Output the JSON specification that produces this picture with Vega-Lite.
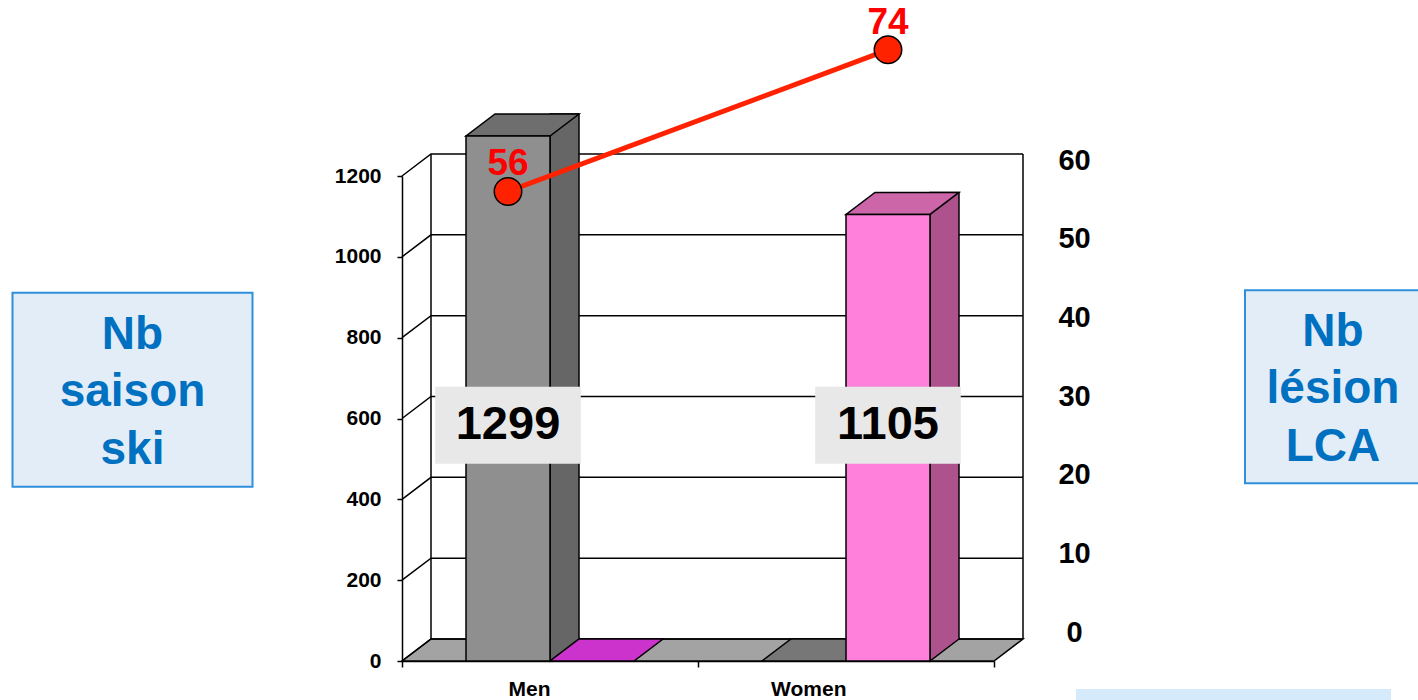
{
  "$schema": "https://vega.github.io/schema/vega-lite/v6.json",
  "width": 592,
  "height": 485,
  "autosize": {"type": "none"},
  "padding": {"left": 402, "top": 176, "right": 424, "bottom": 39},
  "background": "#ffffff",
  "config": {
    "view": {"stroke": null},
    "font": "Liberation Sans",
    "axis": {"labelFont": "Liberation Sans", "labelFontWeight": "bold", "labelColor": "#000000", "domainColor": "#000000", "tickColor": "#000000", "grid": false}
  },
  "datasets": {
    "seasons": [
      {"group": "Men", "sex": "Men", "n": 1299},
      {"group": "Men", "sex": "Women", "n": 0},
      {"group": "Women", "sex": "Men", "n": 0},
      {"group": "Women", "sex": "Women", "n": 1105}
    ],
    "injuries": [
      {"group": "Men", "sex": "Men", "lca": 56},
      {"group": "Women", "sex": "Women", "lca": 74}
    ],
    "ticks": [{"v": 0}, {"v": 200}, {"v": 400}, {"v": 600}, {"v": 800}, {"v": 1000}, {"v": 1200}],
    "notes": [
      {"note": "saison", "lines": ["Nb", "saison", "ski"]},
      {"note": "lesion", "lines": ["Nb", "lésion", "LCA"]}
    ]
  },
  "layer": [
    {
      "layer": [
        {
          "layer": [
            {
              "data": {"name": "ticks"},
              "transform": [{"filter": "datum.v === 0"}],
              "mark": {"type": "point", "shape": "M0,0L5.92,0L6.21,-0.22L0.29,-0.22Z", "size": 40000, "filled": true, "fill": "#a3a3a3", "stroke": "#000000", "strokeWidth": 1.5, "opacity": 1},
              "encoding": {
                "x": {"datum": "Men", "bandPosition": 0},
                "y": {"field": "v", "type": "quantitative", "title": null}
              }
            },
            {
              "data": {"name": "ticks"},
              "mark": {"type": "point", "shape": "M0,0L0.29,-0.22L6.21,-0.22", "size": 40000, "filled": false, "fill": null, "stroke": "#000000", "strokeWidth": 1.5, "opacity": 1},
              "encoding": {
                "x": {"datum": "Men", "bandPosition": 0},
                "y": {"field": "v", "type": "quantitative", "title": null}
              }
            },
            {
              "data": {"name": "ticks"},
              "transform": [{"filter": "datum.v === 0"}],
              "mark": {"type": "rule", "xOffset": 29, "yOffset": -22, "y2Offset": -22, "stroke": "#000000", "strokeWidth": 1.5},
              "encoding": {
                "x": {"datum": "Men", "bandPosition": 0},
                "y": {"datum": 0},
                "y2": {"datum": 1200}
              }
            },
            {
              "data": {"name": "ticks"},
              "transform": [{"filter": "datum.v === 0"}],
              "mark": {"type": "rule", "xOffset": 29, "yOffset": -22, "y2Offset": -22, "stroke": "#000000", "strokeWidth": 1.5},
              "encoding": {
                "x": {"datum": "Women", "bandPosition": 1},
                "y": {"datum": 0},
                "y2": {"datum": 1200}
              }
            },
            {
              "data": {"name": "seasons"},
              "encoding": {
                "x": {
                  "field": "group", "type": "nominal", "title": null,
                  "scale": {"domain": ["Men", "Women"], "paddingInner": 0, "paddingOuter": 0},
                  "axis": {"orient": "bottom", "tickBand": "extent", "tickSize": 6, "tickWidth": 1.5, "domainWidth": 1.5, "labelFontSize": 21, "labelPadding": 22, "labelAngle": 0, "title": null}
                },
                "y": {
                  "field": "n", "type": "quantitative", "title": null,
                  "scale": {"domain": [0, 1200], "nice": false, "zero": true},
                  "axis": {"orient": "left", "values": [0, 200, 400, 600, 800, 1000, 1200], "format": "d", "tickSize": 5, "tickWidth": 1.5, "domainWidth": 1.5, "labelFontSize": 21, "labelPadding": 16, "title": null, "grid": false}
                }
              },
              "layer": [
                {
                  "transform": [{"filter": "datum.n > 0 && datum.sex === 'Men'"}],
                  "mark": {"type": "bar", "width": 29, "xOffset": 14.5, "yOffset": -22, "y2Offset": -22, "fill": "#666666", "stroke": "#000000", "strokeWidth": 1.5}
                },
                {
                  "transform": [{"filter": "datum.n > 0 && datum.sex === 'Women'"}],
                  "mark": {"type": "bar", "width": 29, "xOffset": 98.5, "yOffset": -22, "y2Offset": -22, "fill": "#ad528c", "stroke": "#000000", "strokeWidth": 1.5}
                },
                {
                  "transform": [{"filter": "datum.n > 0"}],
                  "mark": {"type": "point", "shape": "M0.42,-0.235L0.42,0L0.71,-0.22L0.71,-0.235", "size": 40000, "filled": true, "stroke": "#000000", "strokeWidth": 1.5, "opacity": 1},
                  "encoding": {
                    "xOffset": {"field": "sex", "type": "nominal", "scale": {"domain": ["Men", "Women"], "paddingInner": 0, "paddingOuter": 0.762}},
                    "y": {"datum": 0},
                    "fill": {"condition": {"test": "datum.sex === 'Men'", "value": "#666666"}, "value": "#ad528c"}
                  }
                },
                {
                  "mark": {"type": "point", "shape": "M-0.42,0L0.42,0L0.71,-0.22L-0.13,-0.22Z", "size": 40000, "filled": true, "stroke": "#000000", "strokeWidth": 1.5, "opacity": 1},
                  "encoding": {
                    "xOffset": {"field": "sex", "type": "nominal"},
                    "fill": {
                      "condition": [
                        {"test": "datum.sex === 'Men' && datum.n > 0", "value": "#6e6e6e"},
                        {"test": "datum.sex === 'Men'", "value": "#777777"},
                        {"test": "datum.n > 0", "value": "#cc66a8"}
                      ],
                      "value": "#cc33cc"
                    }
                  }
                },
                {
                  "transform": [{"filter": "datum.n > 0"}],
                  "mark": {"type": "bar", "stroke": "#000000", "strokeWidth": 1.5},
                  "encoding": {
                    "xOffset": {"field": "sex", "type": "nominal"},
                    "fill": {"condition": {"test": "datum.sex === 'Men'", "value": "#8f8f8f"}, "value": "#ff80da"}
                  }
                },
                {
                  "transform": [{"filter": "datum.n > 0"}],
                  "mark": {"type": "point", "shape": "M-0.728,-0.385L0.728,-0.385L0.728,0.385L-0.728,0.385Z", "size": 40000, "filled": true, "fill": "#e8e8e8", "strokeWidth": 0, "opacity": 1},
                  "encoding": {"xOffset": {"field": "sex", "type": "nominal"}, "y": {"datum": 583}}
                },
                {
                  "transform": [{"filter": "datum.n > 0"}],
                  "mark": {"type": "text", "fontSize": 47, "fontWeight": "bold", "color": "#000000", "align": "center", "baseline": "middle"},
                  "encoding": {"xOffset": {"field": "sex", "type": "nominal"}, "y": {"datum": 583}, "text": {"field": "n", "type": "quantitative"}}
                }
              ]
            }
          ]
        },
        {
          "data": {"name": "injuries"},
          "encoding": {
            "x": {"field": "group", "type": "nominal", "title": null},
            "xOffset": {"field": "sex", "type": "nominal"},
            "y": {
              "field": "lca", "type": "quantitative", "title": null,
              "scale": {"domain": [0, 60], "range": [456, -16], "nice": false},
              "axis": {"orient": "right", "values": [0, 10, 20, 30, 40, 50, 60], "domain": false, "ticks": false, "tickSize": 0, "labelFontSize": 29, "labelAlign": "center", "labelPadding": 80, "title": null, "grid": false}
            }
          },
          "layer": [
            {"mark": {"type": "line", "stroke": "#ff2200", "strokeWidth": 5}},
            {"mark": {"type": "point", "shape": "circle", "size": 755, "filled": true, "fill": "#ff2200", "stroke": "#000000", "strokeWidth": 1.5, "opacity": 1}},
            {
              "mark": {"type": "text", "fontSize": 37, "fontWeight": "bold", "color": "#ff0000", "align": "center", "baseline": "alphabetic", "yOffset": -16},
              "encoding": {"text": {"field": "lca", "type": "quantitative"}}
            }
          ]
        }
      ],
      "resolve": {"scale": {"y": "independent"}}
    },
    {
      "data": {"name": "notes"},
      "encoding": {
        "x": {"field": "note", "type": "nominal", "scale": {"type": "point", "domain": ["saison", "lesion"], "range": [-269.5, 931], "padding": 0}, "axis": null},
        "y": {"field": "note", "type": "nominal", "scale": {"type": "point", "domain": ["saison", "lesion"], "range": [213.7, 210.7], "padding": 0}, "axis": null}
      },
      "layer": [
        {
          "mark": {"type": "point", "size": 40000, "filled": true, "fill": "#e3edf8", "stroke": "#2e8fda", "strokeWidth": 2, "opacity": 1},
          "encoding": {
            "shape": {
              "field": "note", "type": "nominal", "legend": null,
              "scale": {"domain": ["saison", "lesion"], "range": ["M-1.2,-0.97L1.2,-0.97L1.2,0.97L-1.2,0.97Z", "M-0.88,-0.965L0.88,-0.965L0.88,0.965L-0.88,0.965Z"]}
            }
          }
        },
        {
          "mark": {"type": "text", "fontSize": 46, "fontWeight": "bold", "color": "#0070c0", "align": "center", "baseline": "middle", "lineHeight": 57.5, "dy": -55},
          "encoding": {"text": {"field": "lines"}}
        }
      ]
    },
    {
      "data": {"values": [{"note": "source"}]},
      "mark": {"type": "point", "shape": "M-1.575,-0.2L1.575,-0.2L1.575,0.2L-1.575,0.2Z", "size": 40000, "filled": true, "fill": "#d5eafa", "strokeWidth": 0, "opacity": 1},
      "encoding": {
        "x": {"field": "note", "type": "nominal", "scale": {"type": "point", "domain": ["source"], "range": [831.5, 831.5], "padding": 0}, "axis": null},
        "y": {"field": "note", "type": "nominal", "scale": {"type": "point", "domain": ["source"], "range": [533, 533], "padding": 0}, "axis": null}
      }
    }
  ],
  "resolve": {"scale": {"x": "independent", "y": "independent"}}
}
